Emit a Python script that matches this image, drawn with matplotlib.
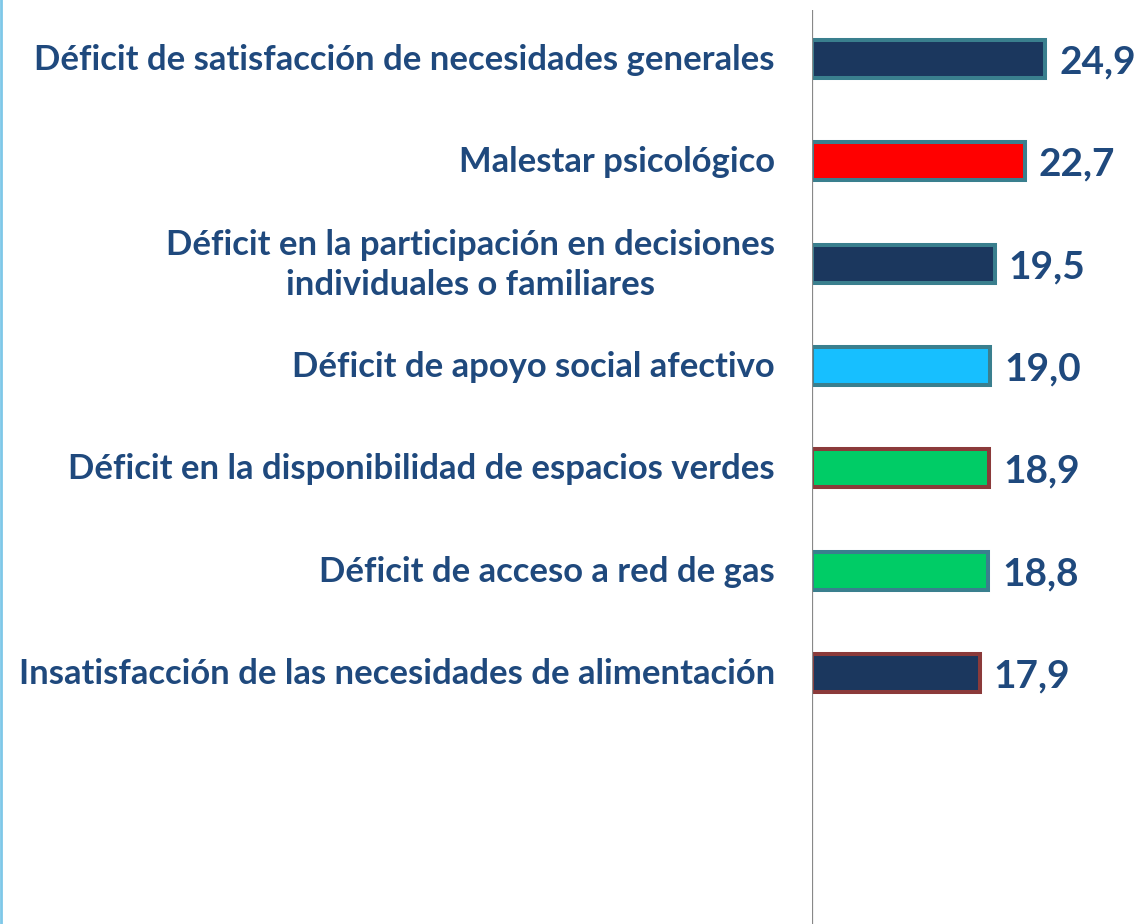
import matplotlib
matplotlib.use("Agg")
import matplotlib.pyplot as plt
from matplotlib.lines import Line2D

categories = [
    "Déficit de satisfacción de necesidades generales",
    "Malestar psicológico",
    "Déficit en la participación en decisiones\nindividuales o familiares",
    "Déficit de apoyo social afectivo",
    "Déficit en la disponibilidad de espacios verdes",
    "Déficit de acceso a red de gas",
    "Insatisfacción de las necesidades de alimentación",
]
values = [24.9, 22.7, 19.5, 19.0, 18.9, 18.8, 17.9]
value_labels = ["24,9", "22,7", "19,5", "19,0", "18,9", "18,8", "17,9"]
face_colors = ["#1B375E", "#FF0000", "#1B375E", "#17BFFF", "#00CC66", "#00CC66", "#1B375E"]
edge_colors = ["#3A7F8E", "#3A7F8E", "#3A7F8E", "#3A7F8E", "#8B3A3A", "#3A7F8E", "#8B3A3A"]

TEXT = "#1F497D"
FONT = ["Lato", "DejaVu Sans"]

W, H = 1140, 924
fig = plt.figure(figsize=(W / 100, H / 100), dpi=100)
ax = fig.add_axes([812 / W, 0, 1 - 812 / W, (924 - 10) / H])

ypos = list(range(len(categories)))
ax.barh(ypos, values, height=0.37, color=face_colors, edgecolor=edge_colors,
        linewidth=2.9, zorder=2)

ax.set_xlim(0, 35.0)
ax.set_ylim(8.45, -0.478)
ax.axis("off")
ax.axvline(0, color="#888888", linewidth=1.6, zorder=3)

trans_off = matplotlib.transforms.offset_copy
for y, v, lab, cat in zip(ypos, values, value_labels, categories):
    t = trans_off(ax.transData, fig=fig, x=14, y=-3, units="dots")
    ax.text(v, y, lab, transform=t, ha="left", va="center", fontsize=28,
            fontweight="bold", color=TEXT, family=FONT)
    t2 = trans_off(ax.transData, fig=fig, x=-37, y=-1, units="dots")
    ax.text(0, y, cat, transform=t2, ha="right", va="center", fontsize=24.9,
            fontweight="bold", color=TEXT, family=FONT, multialignment="center",
            linespacing=1.32, clip_on=False)

fig.add_artist(Line2D([1 / W, 1 / W], [0, 1], color="#7EC8E8", linewidth=2,
                      transform=fig.transFigure))

fig.savefig("out.png", dpi=100)
